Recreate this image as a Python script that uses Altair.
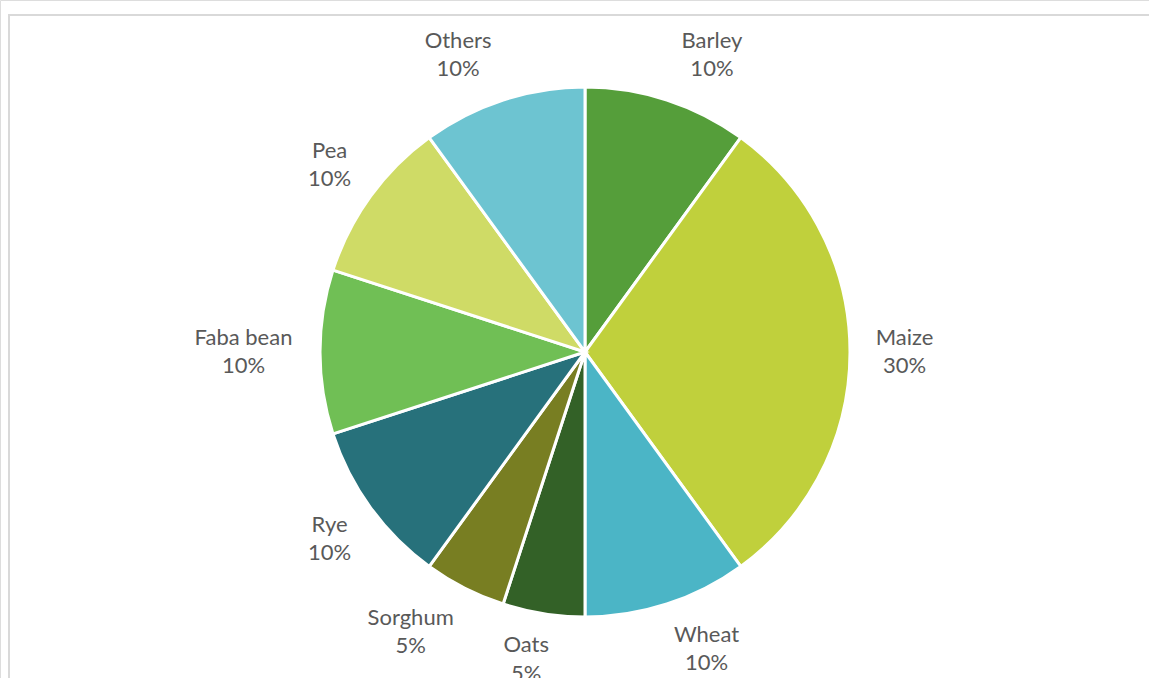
import altair as alt
import pandas as pd

names = ["Barley", "Maize", "Wheat", "Oats", "Sorghum", "Rye", "Faba bean", "Pea", "Others"]
values = [10, 30, 10, 5, 5, 10, 10, 10, 10]
colors = ["#559E3A", "#C0D03C", "#4BB5C6", "#336127", "#787E22", "#27717B", "#70BF55", "#CFDB66", "#6DC4D1"]

df = pd.DataFrame({"name": names, "value": values, "order": list(range(len(names)))})

CX, CY, R = 585, 352, 265
LR = 286      # radius at which label boxes touch
LH = 28.5     # line height of labels

pie = alt.Chart(df).mark_arc(outerRadius=R, stroke="white", strokeWidth=3).encode(
    theta=alt.Theta("value:Q", stack=True),
    order=alt.Order("order:Q"),
    color=alt.Color("name:N", scale=alt.Scale(domain=names, range=colors), legend=None),
    x=alt.value(CX),
    y=alt.value(CY),
)

labels = alt.Chart(df).transform_window(
    cum="sum(value)", sort=[alt.SortField("order")], frame=[None, 0]
).transform_joinaggregate(total="sum(value)").transform_calculate(
    mid="(datum.cum - datum.value/2) / datum.total * 2 * PI",
    label="datum.name + '\\n' + datum.value + '%'",
    w="max(length(datum.name) * 11, 36)",
    sx="clamp(sin(datum.mid) * 3.2, -1, 1)",
    sy="clamp(cos(datum.mid) * 1.3, -1, 1)",
    px=f"{CX} + {LR} * sin(datum.mid) + (datum.w / 2 + 6) * datum.sx",
    py=f"{CY} - {LR} * cos(datum.mid) - 25 * datum.sy",
).mark_text(
    font="Lato", fontSize=22, color="#595959", lineBreak="\n", lineHeight=LH,
    align="center", baseline="middle", dy=-LH / 2,
).encode(
    x=alt.X("px:Q", scale=None),
    y=alt.Y("py:Q", scale=None),
    text="label:N",
)

frame = alt.Chart(pd.DataFrame({"a": [0]})).mark_rect(
    fill=None, stroke="#d9d9d9", strokeWidth=2
).encode(
    x=alt.value(9), x2=alt.value(1200), y=alt.value(15), y2=alt.value(720)
)

chart = alt.layer(frame, pie, labels).properties(
    width=1149, height=678, padding=0, autosize=alt.AutoSizeParams(type="none")
).configure_view(stroke=None).configure(background="white")

chart.save("out.html", embed_options={"renderer": "svg", "actions": False})
